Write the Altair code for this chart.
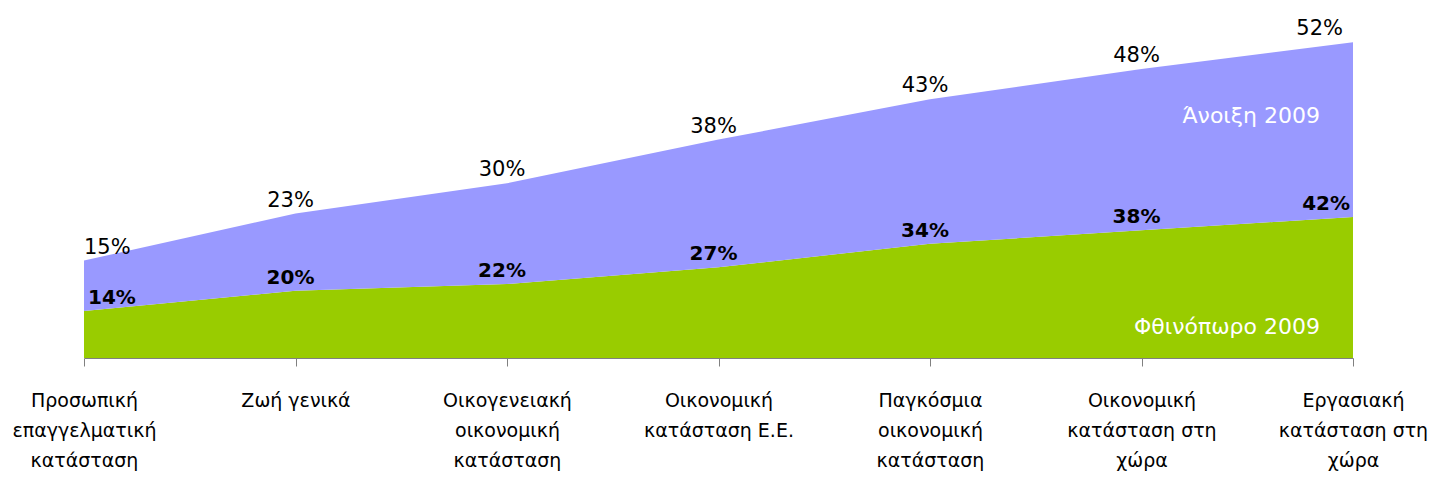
import altair as alt
import pandas as pd

categories = [
    "Προσωπική\nεπαγγελματική\nκατάσταση",
    "Ζωή γενικά",
    "Οικογενειακή\nοικονομική\nκατάσταση",
    "Οικονομική\nκατάσταση Ε.Ε.",
    "Παγκόσμια\nοικονομική\nκατάσταση",
    "Οικονομική\nκατάσταση στη\nχώρα",
    "Εργασιακή\nκατάσταση στη\nχώρα",
]
autumn = [14, 20, 22, 27, 34, 38, 42]   # Φθινόπωρο 2009
spring = [15, 23, 30, 38, 43, 48, 52]   # Άνοιξη 2009
series = ["Φθινόπωρο 2009", "Άνοιξη 2009"]
colors = ["#99CC00", "#9999FF"]

FONT = "DejaVu Sans"

rows = []
for i, c in enumerate(categories):
    rows.append({"cat": c, "idx": i, "series": series[0], "value": autumn[i], "ord": 0,
                 "top": autumn[i], "label": f"{autumn[i]}%"})
    rows.append({"cat": c, "idx": i, "series": series[1], "value": spring[i], "ord": 1,
                 "top": autumn[i] + spring[i], "label": f"{spring[i]}%"})
df = pd.DataFrame(rows)
n = len(categories)

xenc = alt.X("cat:N", sort=categories, scale=alt.Scale(type="point", padding=0),
             title=None,
             axis=alt.Axis(labelAngle=0, labelExpr="split(datum.label, '\\n')",
                           labelFont=FONT, labelFontSize=19, labelLineHeight=30,
                           labelPadding=25, labelColor="#000", tickSize=8,
                           tickColor="#808080", domainColor="#808080",
                           labelLimit=300))
yscale = alt.Scale(domain=[0, 100], nice=False)

base = alt.Chart(df)

area = base.mark_area(opacity=1, interpolate="linear").encode(
    x=xenc,
    y=alt.Y("value:Q", stack="zero", scale=yscale, axis=None),
    color=alt.Color("series:N", scale=alt.Scale(domain=series, range=colors), legend=None),
    order=alt.Order("ord:Q", sort="ascending"),
)

def labels(ser_idx, bold, dxs, size):
    layers = []
    conds = [("datum.idx == 0", "left", dxs[0]),
             (f"datum.idx > 0 && datum.idx < {n-1}", "center", dxs[1]),
             (f"datum.idx == {n-1}", "right", dxs[2])]
    for cond, al, dx in conds:
        layers.append(
            base.transform_filter(f"datum.ord == {ser_idx}").transform_filter(cond)
            .mark_text(align=al, baseline="alphabetic", dx=dx, dy=-7, font=FONT,
                       fontSize=size, fontWeight="bold" if bold else "normal", color="#000")
            .encode(x=alt.X("cat:N", sort=categories), y=alt.Y("top:Q", scale=yscale),
                    text="label:N")
        )
    return layers

spring_lbl = labels(1, False, [0, -5, -10], 21)
autumn_lbl = labels(0, True, [4, -5, -3], 20)

ann = pd.DataFrame({"cat": [categories[-1], categories[-1]], "name": ["Άνοιξη 2009", "Φθινόπωρο 2009"],
                    "pos": [70, 7]})
ann_text = alt.Chart(ann).mark_text(align="right", baseline="alphabetic", dx=-33, font=FONT,
                                    fontSize=22, color="white").encode(
    x=alt.X("cat:N", sort=categories), y=alt.Y("pos:Q", scale=yscale), text="name:N")

chart = alt.layer(area, *spring_lbl, *autumn_lbl, ann_text).properties(
    width=1269, height=336,
    autosize=alt.AutoSizeParams(type="none"),
    padding={"left": 76, "right": 76, "top": 14, "bottom": 115},
).configure_view(stroke=None)

chart.save("out.html", embed_options={"renderer": "svg", "actions": False})
